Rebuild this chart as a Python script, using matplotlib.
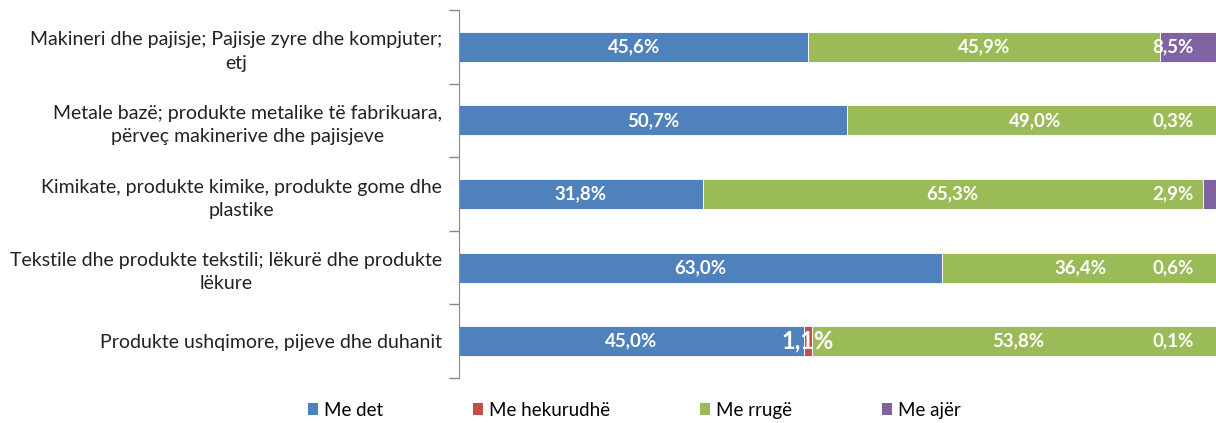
import matplotlib.pyplot as plt
from matplotlib.patches import Patch

plt.rcParams['font.family'] = ['Lato', 'DejaVu Sans']

categories = [
    "Makineri dhe pajisje; Pajisje zyre dhe kompjuter;\netj",
    "Metale bazë; produkte metalike të fabrikuara,\npërveç makinerive dhe pajisjeve",
    "Kimikate, produkte kimike, produkte gome dhe\nplastike",
    "Tekstile dhe produkte tekstili; lëkurë dhe produkte\nlëkure",
    "Produkte ushqimore, pijeve dhe duhanit",
]
series_names = ["Me det", "Me hekurudhë", "Me rrugë", "Me ajër"]
me_det = [45.6, 50.7, 31.8, 63.0, 45.0]
me_hekurudhe = [0.0, 0.0, 0.0, 0.0, 1.1]
me_rruge = [45.9, 49.0, 65.3, 36.4, 53.8]
me_ajer = [8.5, 0.3, 2.9, 0.6, 0.1]
colors = ["#4F81BD", "#C0504D", "#9BBB59", "#8064A2"]

series = [me_det, me_hekurudhe, me_rruge, me_ajer]

fig = plt.figure(figsize=(12.16, 4.23), dpi=100)
ax = fig.add_axes([459 / 1216, 1 - 378 / 423, (1225 - 459) / 1216, 368 / 423])

y = list(range(len(categories)))
left = [0.0] * len(categories)
for k, (vals, col, name) in enumerate(zip(series, colors, series_names)):
    ax.barh(y, vals, left=left, height=0.41, color=col, label=name,
            edgecolor='white', linewidth=0.6)
    for i, v in enumerate(vals):
        if v <= 0:
            continue
        cx = left[i] + v / 2
        size = 13.5
        if k == 3:
            cx = min(cx, 93.2)
        if k == 1:
            size = 17
        ax.text(cx, i, f"{v:.1f}%".replace('.', ','), ha='center', va='center',
                color='white', fontsize=size, fontweight='bold')
    left = [a + b for a, b in zip(left, vals)]

ax.set_xlim(0, 100)
ax.set_ylim(len(categories) - 0.5, -0.5)
ax.set_yticks([i - 0.5 for i in range(len(categories) + 1)])
ax.set_yticklabels([])
ax.set_yticks(y, minor=True)
ax.set_yticklabels(categories, minor=True, fontsize=14, color='#222222',
                   ha='right', multialignment='center', linespacing=1.45)
ax.tick_params(axis='y', which='minor', length=0, pad=12)
ax.tick_params(axis='y', which='major', length=7, color='#898989', width=1)
ax.set_xticks([])
for s in ['top', 'right', 'bottom']:
    ax.spines[s].set_visible(False)
ax.spines['left'].set_color('#898989')

handles = [Patch(facecolor=c, label=n) for c, n in zip(colors, series_names)]
fig.legend(handles=handles, loc='center', bbox_to_anchor=(634 / 1216, 1 - 410 / 423),
           ncol=4, frameon=False, fontsize=13.5, handlelength=0.55, handleheight=0.55,
           handletextpad=0.3, columnspacing=4.8)

fig.savefig('out.png', dpi=100)
